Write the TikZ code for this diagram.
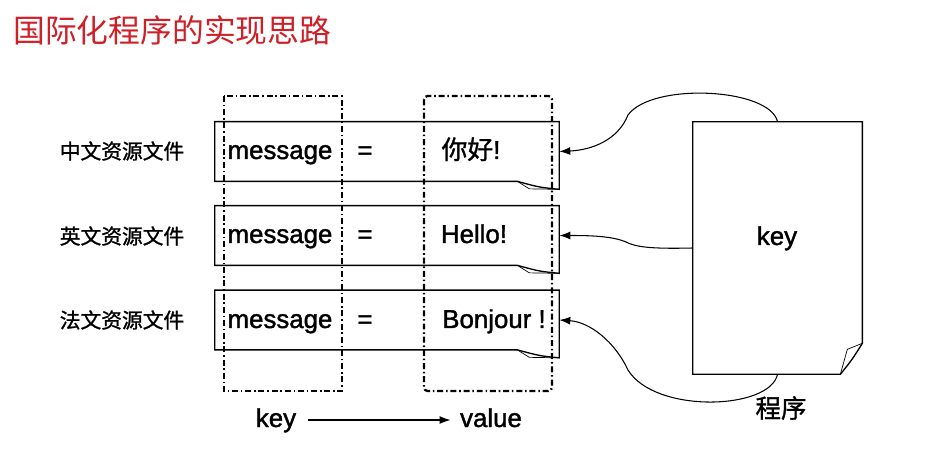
\documentclass[tikz,border=0pt]{standalone}
\usepackage{fontspec}
\setmainfont{Liberation Sans}
\newfontfamily\heavy{Liberation Sans}[FakeBold=1.5]
\newfontfamily\cjk{Noto Sans CJK SC}
\newfontfamily\cjkheavy{Noto Sans CJK SC}[FakeBold=1.2]
\usetikzlibrary{arrows.meta}
\definecolor{titlered}{RGB}{206,32,40}
\begin{document}
\begin{tikzpicture}[x=0.02cm, y=-0.02cm,
  txt/.style={font=\heavy\fontsize{14.7pt}{16pt}\selectfont, inner sep=1pt, anchor=base},
  lbl/.style={font=\cjkheavy\fontsize{11.8pt}{13pt}\selectfont},
  rowbox/.style={minimum width=6.88cm, minimum height=1.18cm, inner sep=0pt},
  col/.style={line width=1.3pt, dash pattern=on 3.4pt off 1.6pt on 0.9pt off 1.6pt},
  edge/.style={line width=0.75pt},
  ptr/.style={line width=0.6pt, -{Latex[length=2.2mm, width=1.6mm]}}]
\useasboundingbox (0,0) rectangle (937,476);
\node[anchor=west, text=titlered, font=\cjk\fontsize{18.1pt}{19pt}\selectfont, inner sep=0pt] (title) at (13,30) {国际化程序的实现思路};
\node[lbl] (zh) at (122,151) {中文资源文件};
\node[lbl] (en) at (122,236) {英文资源文件};
\node[lbl] (fr) at (122,320) {法文资源文件};
\node[rowbox] (row1) at (387,151.5) {};
\node[rowbox] (row2) at (387,235.5) {};
\node[rowbox] (row3) at (387,320) {};
\foreach \r in {1,2,3}{
  \draw[edge] (row\r.north west) -- (row\r.north east) -- ([yshift=-0.16cm]row\r.south east)
    .. controls ([xshift=-0.4cm, yshift=-0.12cm]row\r.south east) .. ([xshift=-0.84cm]row\r.south east)
    -- (row\r.south west) -- cycle;
  \draw[line width=0.4pt] ([xshift=-0.84cm]row\r.south east) -- ([xshift=-0.6cm, yshift=-0.15cm]row\r.south east)
    -- ([yshift=-0.16cm]row\r.south east);
}
\node[txt] (key1) at (280,159) {message};
\node[txt] (key2) at (280,243) {message};
\node[txt] (key3) at (280,328) {message};
\node[txt] (eq1) at (365,159) {=};
\node[txt] (eq2) at (365,243) {=};
\node[txt] (eq3) at (365,328) {=};
\node[txt] (val1) at (471,159) {{\cjkheavy 你好}!};
\node[txt] (val2) at (474,243) {Hello!};
\node[txt] (val3) at (494,328) {Bonjour !};
\draw[col] (224,96) rectangle (342,391);
\draw[col, rounded corners=2pt] (424,96) rectangle (552,391);
\node[minimum width=3.38cm, minimum height=5.04cm, inner sep=0pt] (doc) at (777.5,248) {};
\draw[edge] (doc.south west) -- (doc.north west) -- (doc.north east) -- ([yshift=0.62cm]doc.south east)
  .. controls ([xshift=-0.2cm, yshift=0.3cm]doc.south east) .. ([xshift=-0.44cm]doc.south east) -- cycle;
\draw[line width=0.4pt] ([xshift=-0.44cm]doc.south east) -- ([xshift=-0.3cm, yshift=0.5cm]doc.south east)
  -- ([yshift=0.62cm]doc.south east);
\node[txt] (prog) at (777,245) {key};
\node[font=\cjkheavy\fontsize{14.5pt}{16pt}\selectfont] (name) at (781,408) {程序};
\draw[ptr] (doc.north) .. controls (770,88) and (652,82) .. (628,115)
  .. controls (618,140) and (592,150) .. (row1.east);
\draw[ptr] (doc.west) .. controls (650,249) and (636,247) .. (626,242)
  .. controls (612,236) and (590,235.5) .. (row2.east);
\draw[ptr] (doc.south) .. controls (770,410) and (655,414) .. (628,370)
  .. controls (615,342) and (590,322) .. (row3.east);
\node[txt] (bkey) at (276,427) {key};
\node[txt] (bval) at (491,427) {value};
\draw[ptr] ([xshift=0.2cm, yshift=0.14cm]bkey.base east) -- ([xshift=-0.15cm, yshift=0.14cm]bval.base west);
\end{tikzpicture}
\end{document}
